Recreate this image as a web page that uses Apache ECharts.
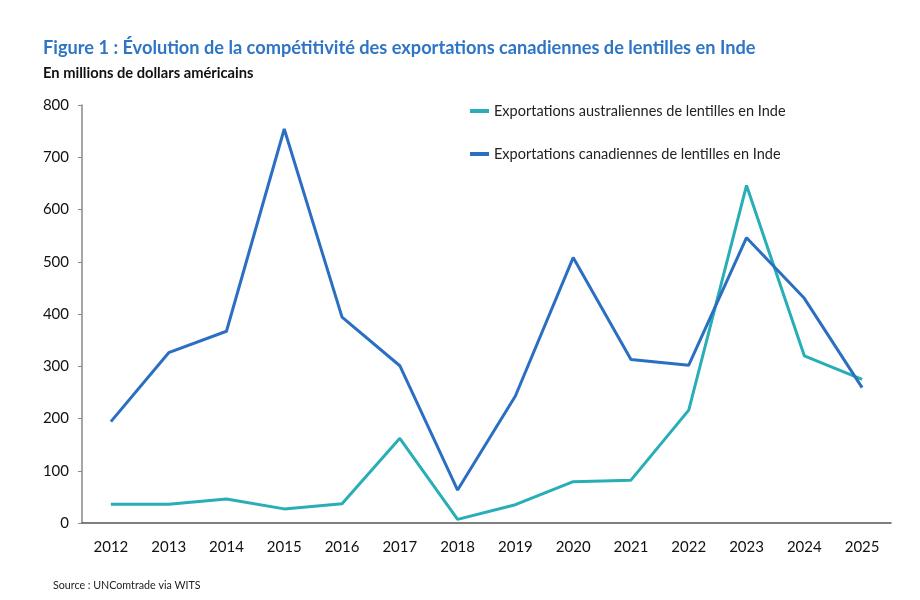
<!DOCTYPE html>
<html><head><meta charset="utf-8">
<script src="https://cdn.jsdelivr.net/npm/echarts@6/dist/echarts.min.js"></script>
<style>html,body{margin:0;padding:0;background:#fff}#c{width:920px;height:600px}</style>
</head><body><div id="c"></div>
<script>
const years = ['2012','2013','2014','2015','2016','2017','2018','2019','2020','2021','2022','2023','2024','2025'];
const australie = [36, 36, 46, 27, 37, 162, 7, 35, 79, 82, 216, 646, 320, 275];
const canada = [194, 326, 367, 754, 394, 301, 63, 243, 508, 313, 302, 546, 430, 259];
const yTicks = [0, 100, 200, 300, 400, 500, 600, 700, 800];
const seriesNames = ['Exportations australiennes de lentilles en Inde', 'Exportations canadiennes de lentilles en Inde'];
const titleText = 'Figure 1 : Évolution de la compétitivité des exportations canadiennes de lentilles en Inde';
const subtitleText = 'En millions de dollars américains';
const sourceText = 'Source : UNComtrade via WITS';

const FONT = 'Lato, "Open Sans", sans-serif';
const chart = echarts.init(document.getElementById('c'), null, {renderer: 'canvas'});
chart.setOption({
  animation: false,
  backgroundColor: '#fff',
  title: [
    {text: titleText, left: 38, top: 34, textStyle: {fontFamily: FONT, fontSize: 18.2, fontWeight: 'bold', color: '#2E75C6'}},
    {text: subtitleText, left: 38, top: 61, textStyle: {fontFamily: FONT, fontSize: 14.7, fontWeight: 'bold', color: '#111'}},
    {text: sourceText, left: 48, top: 575, textStyle: {fontFamily: FONT, fontSize: 10.7, fontWeight: 'normal', color: '#222'}}
  ],
  legend: {
    orient: 'vertical', left: 465, top: 98, itemGap: 27, itemWidth: 19, itemHeight: 4,
    icon: 'rect',
    textStyle: {fontFamily: FONT, fontSize: 14.5, color: '#222', lineHeight: 16},
    data: seriesNames
  },
  grid: {left: 82, right: 29, top: 105, bottom: 77},
  xAxis: {
    type: 'category', data: years, boundaryGap: true,
    axisLine: {lineStyle: {color: '#555', width: 1.5}},
    axisTick: {show: false},
    axisLabel: {fontFamily: FONT, fontSize: 15, color: '#111', margin: 17}
  },
  yAxis: {
    type: 'value', min: yTicks[0], max: yTicks[yTicks.length - 1], interval: 100,
    axisLine: {show: true, lineStyle: {color: '#888', width: 1.5}},
    axisTick: {show: true, inside: false, length: 4, lineStyle: {color: '#888'}},
    splitLine: {show: false},
    axisLabel: {fontFamily: FONT, fontSize: 15, color: '#111', margin: 13}
  },
  series: [
    {name: seriesNames[0], type: 'line', data: australie, symbol: 'none', lineStyle: {width: 3, color: '#27AEB6'}, itemStyle: {color: '#27AEB6'}, z: 2},
    {name: seriesNames[1], type: 'line', data: canada, symbol: 'none', lineStyle: {width: 3, color: '#2B6FC2'}, itemStyle: {color: '#2B6FC2'}, z: 3}
  ]
});
</script></body></html>
